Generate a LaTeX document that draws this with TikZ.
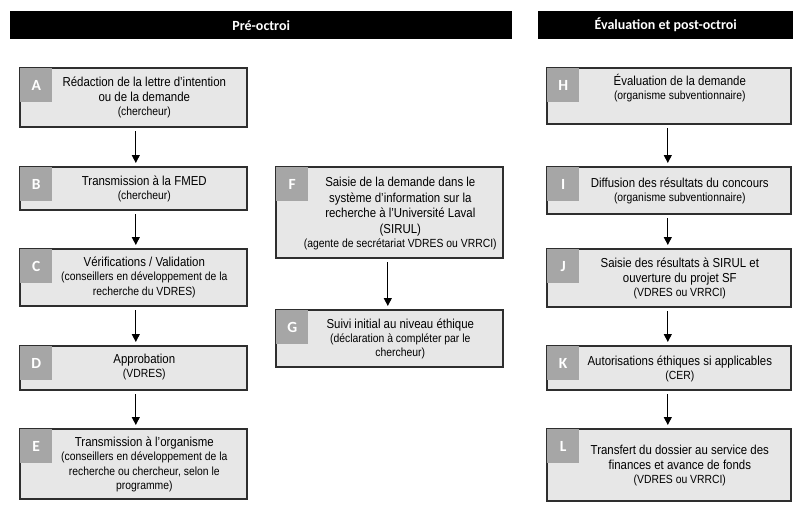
\documentclass[tikz,border=0pt]{standalone}
\usepackage{fontspec}
\setmainfont{Liberation Sans}
\newfontfamily\boxfont[FakeStretch=0.88]{Liberation Sans}
\newfontfamily\hdrfont{Carlito}
\usetikzlibrary{arrows.meta}
\definecolor{boxfill}{HTML}{E7E7E7}
\definecolor{sqgray}{HTML}{A6A6A6}
\definecolor{boxline}{HTML}{2E2E2E}
\newcommand{\mainf}{\fontsize{13}{15.5}\selectfont\boxfont}
\newcommand{\sm}{\fontsize{11.8}{14.5}\selectfont}
\newcommand{\flowbox}[8]{%
  \node[fbox, minimum width={#5-#3}, minimum height={#6-#4}, anchor=north west] (#1) at (#3,#4) {};
  \node[lsq, anchor=north west] (#1sq) at ([xshift=1pt,yshift=-1pt]#1.north west) {#2};
  \node[btext] (#1txt) at ([xshift=11pt,yshift=#7]#1.center) {\begin{tabular}{@{}c@{}}#8\end{tabular}};
}
\tikzset{
  fbox/.style={draw=boxline, line width=1.6pt, fill=boxfill, inner sep=0pt},
  lsq/.style={fill=sqgray, minimum width=32pt, minimum height=34pt, inner sep=0pt,
    text=white, font=\fontsize{15.5}{18}\selectfont\hdrfont\bfseries},
  btext/.style={inner sep=0pt, font=\mainf, text=black},
  hdr/.style={fill=black, inner sep=0pt, text=white, font=\fontsize{14}{16}\selectfont\hdrfont\bfseries},
  arr/.style={line width=0.9pt, draw=black, -{Triangle[length=8pt,width=8pt]}, shorten <=3.5pt, shorten >=3pt}
}
\begin{document}
\begin{tikzpicture}[x=1pt,y=-1pt]
\useasboundingbox[fill=white] (0,0) rectangle (800,507);
% headers
\node[hdr, minimum width=502pt, minimum height=28pt, anchor=north west] (hpre) at (10,11) {Pré-octroi};
\node[hdr, minimum width=255pt, minimum height=28pt, anchor=north west] (hpost) at (538,11) {Évaluation et post-octroi};
% left column
\flowbox{A}{A}{19}{67}{246}{126}{-0.5pt}{Rédaction de la lettre d’intention\\ou de la demande\\[-1.5pt]\sm (chercheur)}
\flowbox{B}{B}{19}{166}{246}{209}{-1.5pt}{Transmission à la FMED\\[-1.5pt]\sm (chercheur)}
\flowbox{C}{C}{19}{248}{246}{305}{-0.5pt}{Vérifications / Validation\\[-1.5pt]\sm (conseillers en développement de la\\[-1pt]\sm recherche du VDRES)}
\flowbox{D}{D}{19}{345}{246}{389}{0pt}{Approbation\\[-1.5pt]\sm (VDRES)}
\flowbox{E}{E}{19}{428}{246}{498}{-1.5pt}{Transmission à l’organisme\\[-1.5pt]\sm (conseillers en développement de la\\[-1pt]\sm recherche ou chercheur, selon le\\[-1pt]\sm programme)}
% middle column
\flowbox{F}{F}{275}{166}{502}{257}{-1.5pt}{Saisie de la demande dans le\\système d’information sur la\\recherche à l’Université Laval\\(SIRUL)\\[-1.5pt]\sm (agente de secrétariat VDRES ou VRRCI)}
\flowbox{G}{G}{275}{309}{502}{366}{-1pt}{Suivi initial au niveau éthique\\[-1.5pt]\sm (déclaration à compléter par le\\[-1pt]\sm chercheur)}
% right column
\flowbox{H}{H}{546}{67}{790}{123}{6.5pt}{Évaluation de la demande\\[-1.5pt]\sm (organisme subventionnaire)}
\flowbox{I}{I}{546}{166}{790}{213}{-1.5pt}{Diffusion des résultats du concours\\[-1.5pt]\sm (organisme subventionnaire)}
\flowbox{J}{J}{546}{248}{790}{306}{-1pt}{Saisie des résultats à SIRUL et\\ouverture du projet SF\\[-1.5pt]\sm (VDRES ou VRRCI)}
\flowbox{K}{K}{546}{345}{790}{389}{-1.5pt}{Autorisations éthiques si applicables\\[-1.5pt]\sm (CER)}
\flowbox{L}{L}{546}{428}{790}{500}{-1pt}{Transfert du dossier au service des\\finances et avance de fonds\\[-1.5pt]\sm (VDRES ou VRRCI)}
% arrows
\draw[arr] ([xshift=2.5pt]A.south) -- ([xshift=2.5pt]B.north);
\draw[arr] ([xshift=2.5pt]B.south) -- ([xshift=2.5pt]C.north);
\draw[arr] ([xshift=2.5pt]C.south) -- ([xshift=2.5pt]D.north);
\draw[arr] ([xshift=2.5pt]D.south) -- ([xshift=2.5pt]E.north);
\draw[arr] ([xshift=-1.5pt]F.south) -- ([xshift=-1.5pt]G.north);
\draw[arr] ([xshift=-1pt]H.south) -- ([xshift=-1pt]I.north);
\draw[arr] ([xshift=-1pt]I.south) -- ([xshift=-1pt]J.north);
\draw[arr] ([xshift=-1pt]J.south) -- ([xshift=-1pt]K.north);
\draw[arr] ([xshift=-1pt]K.south) -- ([xshift=-1pt]L.north);
\end{tikzpicture}
\end{document}
